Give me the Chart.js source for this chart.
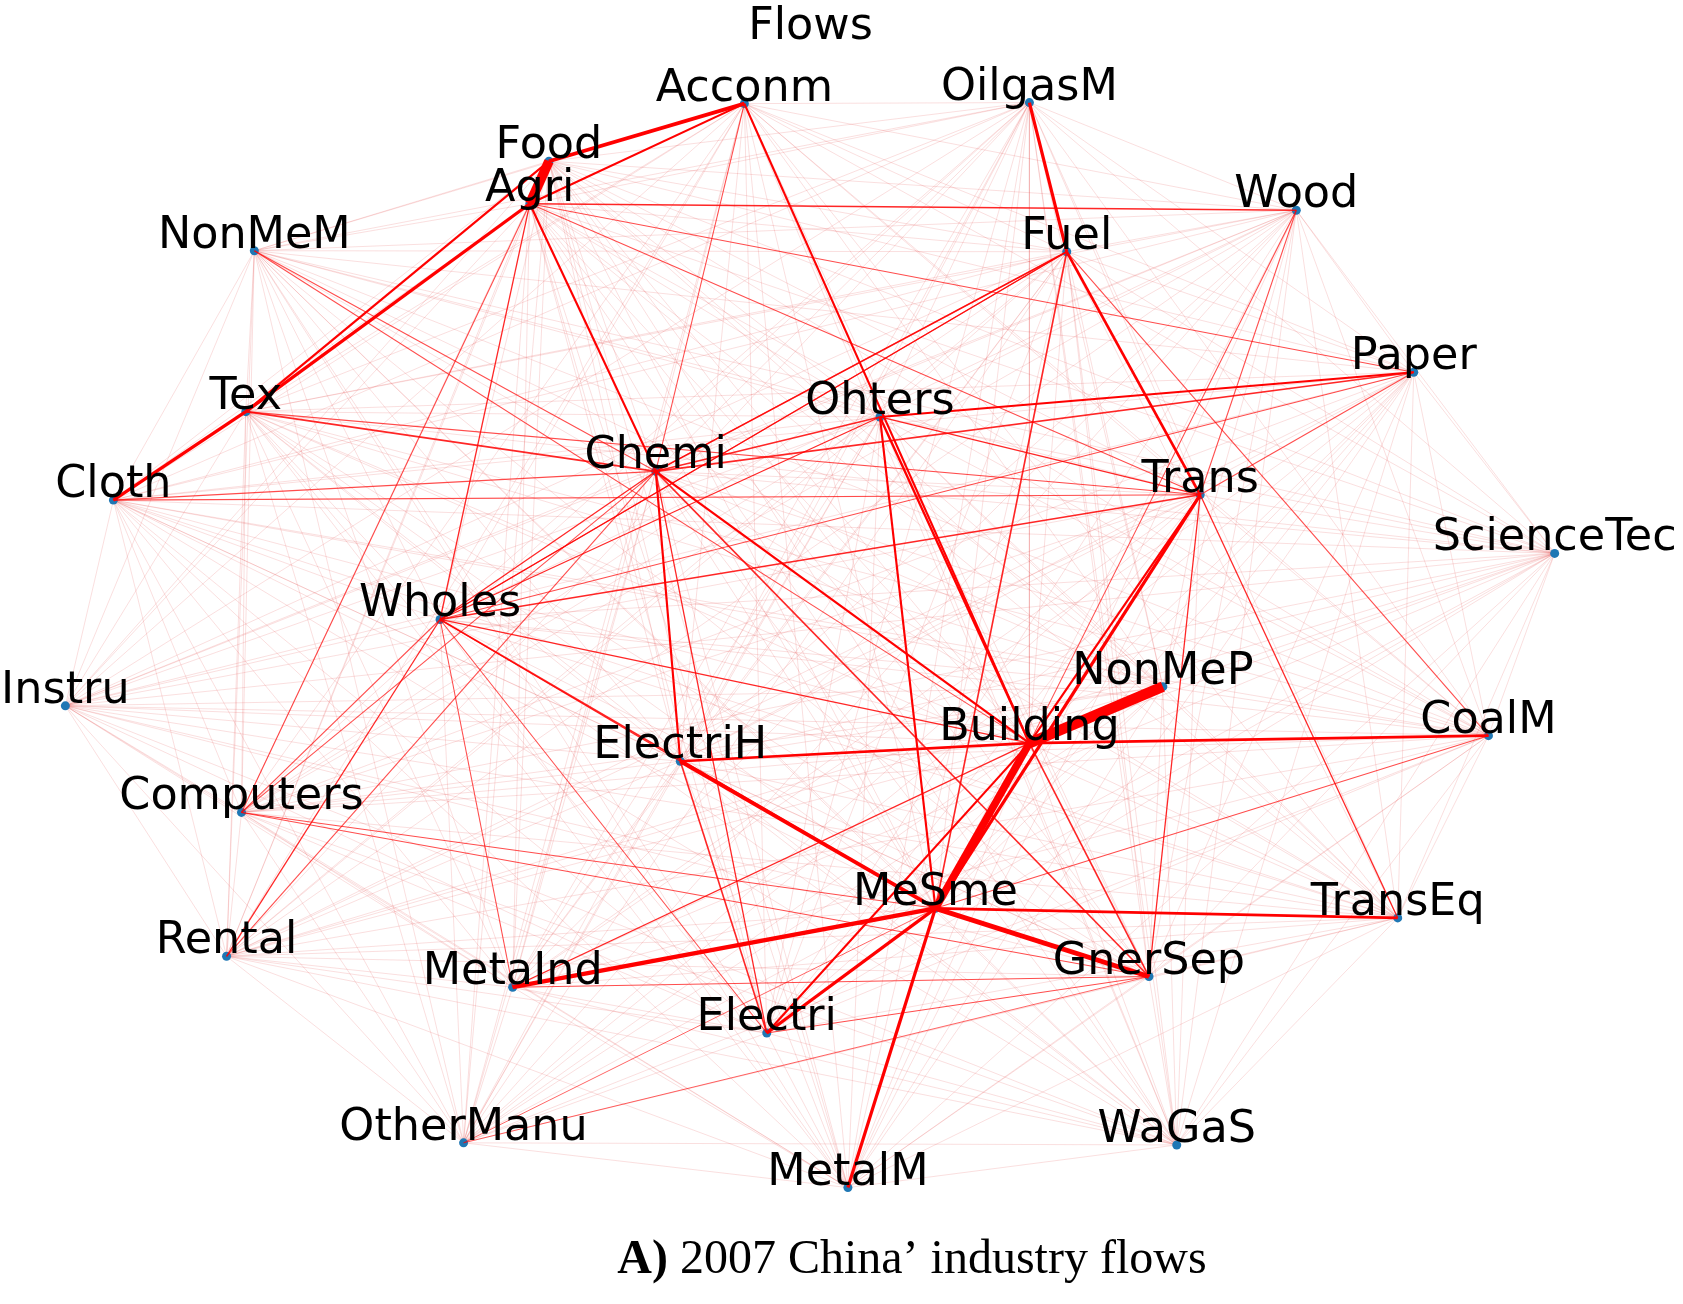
<!DOCTYPE html>
<html>
<head>
<meta charset="utf-8">
<title>2007 China' industry flows</title>
<script src="https://cdn.jsdelivr.net/npm/chart.js@4.4.1/dist/chart.umd.min.js"></script>
<style>
  html, body { margin: 0; padding: 0; background: #fff; }
  canvas { display: block; }
</style>
</head>
<body>
<canvas id="flows" width="1683" height="1304"></canvas>
<script>
// sectors and their layout position (layout units)
const nodeNames = ['Acconm', 'OilgasM', 'Food', 'Agri', 'NonMeM', 'Wood', 'Fuel', 'Paper', 'Tex', 'Ohters',
                   'Chemi', 'Cloth', 'Trans', 'ScienceTec', 'Wholes', 'Instru', 'NonMeP', 'CoalM', 'Building', 'ElectriH',
                   'Computers', 'MeSme', 'TransEq', 'Rental', 'GnerSep', 'MetaInd', 'Electri', 'OtherManu', 'WaGaS', 'MetalM'];
const nodeX = [693, 960, 510, 492, 234, 1210, 995, 1320, 226, 820,
               610, 102, 1120, 1452, 408, 57, 1085, 1390, 960, 633,
               222, 872, 1305, 208, 1072, 476, 714, 430, 1098, 790];
const nodeY = [93, 92, 147, 187, 231, 193, 232, 345, 382, 387,
               438, 465, 460, 515, 577, 658, 640, 686, 693, 710,
               758, 848, 857, 893, 912, 922, 965, 1068, 1070, 1110];

// visible flows: source, target, strength (~ line width)
const edgeFrom = ['Food', 'NonMeP', 'Building', 'MeSme', 'Agri', 'Tex', 'Food', 'Food', 'Agri', 'OilgasM',
                  'Fuel', 'Trans', 'Trans', 'ElectriH', 'MeSme', 'MeSme', 'MeSme', 'MeSme', 'Building', 'ElectriH',
                  'Building', 'Acconm', 'Agri', 'Chemi', 'Ohters', 'Ohters', 'Ohters', 'Chemi', 'Chemi', 'Tex',
                  'Chemi', 'Chemi', 'Chemi', 'Wholes', 'Wholes', 'Wholes', 'Wholes', 'Wholes', 'Wholes', 'Wholes',
                  'Wholes', 'Agri', 'Fuel', 'Trans', 'Ohters', 'Cloth', 'Computers', 'Rental', 'Rental',
                  'Computers', 'Electri', 'Electri', 'GnerSep', 'Fuel', 'Fuel', 'Wood', 'NonMeM', 'NonMeM', 'Paper',
                  'Paper', 'MetaInd', 'MetaInd', 'Electri', 'Computers', 'Computers', 'Computers', 'OtherManu', 'OtherManu', 'GnerSep',
                  'GnerSep', 'Trans', 'Wood', 'Acconm', 'Cloth', 'Tex', 'Agri', 'Paper', 'Fuel', 'CoalM'];
const edgeTo   = ['Agri', 'Building', 'MeSme', 'GnerSep', 'Tex', 'Cloth', 'Tex', 'Acconm', 'Acconm', 'Fuel',
                  'Trans', 'MeSme', 'Building', 'MeSme', 'MetaInd', 'TransEq', 'MetalM', 'Electri', 'Electri', 'Building',
                  'CoalM', 'Building', 'Chemi', 'ElectriH', 'MeSme', 'Building', 'Paper', 'Building', 'GnerSep', 'Chemi',
                  'Ohters', 'Paper', 'Fuel', 'Trans', 'Fuel', 'Ohters', 'Chemi', 'MeSme', 'ElectriH', 'Agri',
                  'Building', 'Wood', 'MeSme', 'TransEq', 'Trans', 'Trans', 'Wholes', 'Wholes', 'Chemi',
                  'Chemi', 'ElectriH', 'Chemi', 'Building', 'CoalM', 'Wholes', 'Building', 'Chemi', 'Building', 'Agri',
                  'Wholes', 'Wholes', 'Building', 'Wholes', 'MeSme', 'GnerSep', 'Agri', 'MeSme', 'GnerSep', 'MetaInd',
                  'Electri', 'GnerSep', 'Trans', 'Chemi', 'Chemi', 'Trans', 'Trans', 'Trans', 'Chemi', 'MeSme'];
const edgeWidth = [9, 10, 7, 4.5, 3, 3, 2, 3.5, 2, 3,
                   2.5, 3, 2, 3.5, 4, 2.5, 3, 3, 2, 2.5,
                   2.5, 2, 2, 2, 2, 2.2, 2, 2, 1.5, 1.5,
                   1.5, 1.5, 1.5, 1.5, 1.2, 1.2, 1.2, 1.5, 1.2, 1.2,
                   1.2, 1.5, 1.5, 1.2, 1.2, 1, 1, 1.2, 1,
                   1, 1.5, 1.2, 1.5, 1, 1, 1, 1, 1, 1,
                   1, 1, 1.2, 1, 1, 1, 1, 0.8, 0.8, 1,
                   1, 1.2, 1, 1, 1, 1, 1, 1, 1, 1];
// every other pair of sectors carries a weak flow
const weakWidth = 0.8;

const titleText = 'Flows';
const captionBold = 'A)';
const captionText = ' 2007 China\u2019 industry flows';

const ctx = document.getElementById('flows');
const scaleUp = 1683 / 1568;

function pt(name) {
    var i = nodeNames.indexOf(name);
    return { x: nodeX[i], y: nodeY[i] };
}

var datasets = [];
var strong = {};
for (var i = 0; i < edgeFrom.length; i++) {
    strong[edgeFrom[i] + '|' + edgeTo[i]] = true;
    strong[edgeTo[i] + '|' + edgeFrom[i]] = true;
}

// weak flows first so they stay underneath
for (var a = 0; a < nodeNames.length; a++) {
    for (var b = a + 1; b < nodeNames.length; b++) {
        if (strong[nodeNames[a] + '|' + nodeNames[b]]) continue;
        datasets.push({
            data: [pt(nodeNames[a]), pt(nodeNames[b])],
            showLine: true,
            borderColor: 'rgba(225,45,45,0.18)',
            borderWidth: weakWidth * scaleUp,
            pointRadius: 0,
            order: 5
        });
    }
}

// nodes
datasets.push({
    data: nodeNames.map(function (n) { return pt(n); }),
    pointRadius: 4.5,
    pointBackgroundColor: '#1f77b4',
    pointBorderWidth: 0,
    order: 4
});
var nodeIndex = datasets.length - 1;

for (var i = 0; i < edgeFrom.length; i++) {
    var w = edgeWidth[i];
    var alpha = w >= 2 ? 1 : (w >= 1.2 ? 0.85 : 0.7);
    datasets.push({
        data: [pt(edgeFrom[i]), pt(edgeTo[i])],
        showLine: true,
        borderColor: 'rgba(255,0,0,' + alpha + ')',
        borderWidth: w * scaleUp,
        pointRadius: 0,
        order: w >= 2 ? 1 : 2
    });
}

const labelPlugin = {
    id: 'nodeLabels',
    afterDatasetsDraw: function (chart) {
        var c = chart.ctx;
        var meta = chart.getDatasetMeta(nodeIndex);
        c.save();
        c.fillStyle = '#000';
        c.font = '44.5px "DejaVu Sans"';
        c.textAlign = 'center';
        c.textBaseline = 'alphabetic';
        meta.data.forEach(function (p, i) {
            c.fillText(nodeNames[i], p.x, p.y - 3);
        });
        // title
        var xs = chart.scales.x, ys = chart.scales.y;
        c.fillText(titleText, xs.getPixelForValue(755), ys.getPixelForValue(32));
        // caption
        c.font = 'bold 48px "Liberation Serif"';
        var wb = c.measureText(captionBold).width;
        c.font = '48px "Liberation Serif"';
        var wt = c.measureText(captionText).width;
        var left = xs.getPixelForValue(850) - (wb + wt) / 2;
        var base = ys.getPixelForValue(1190);
        c.textAlign = 'left';
        c.font = 'bold 48px "Liberation Serif"';
        c.fillText(captionBold, left, base);
        c.font = '48px "Liberation Serif"';
        c.fillText(captionText, left + wb, base);
        c.restore();
    }
};

new Chart(ctx, {
    type: 'scatter',
    data: { datasets: datasets },
    options: {
        responsive: false,
        animation: false,
        devicePixelRatio: 1,
        layout: { padding: 0 },
        scales: {
            x: { type: 'linear', min: 0, max: 1568, display: false },
            y: { type: 'linear', min: 0, max: 1215, reverse: true, display: false }
        },
        plugins: {
            legend: { display: false },
            tooltip: { enabled: false }
        },
        elements: { line: { tension: 0 } }
    },
    plugins: [labelPlugin]
});
</script>
</body>
</html>
